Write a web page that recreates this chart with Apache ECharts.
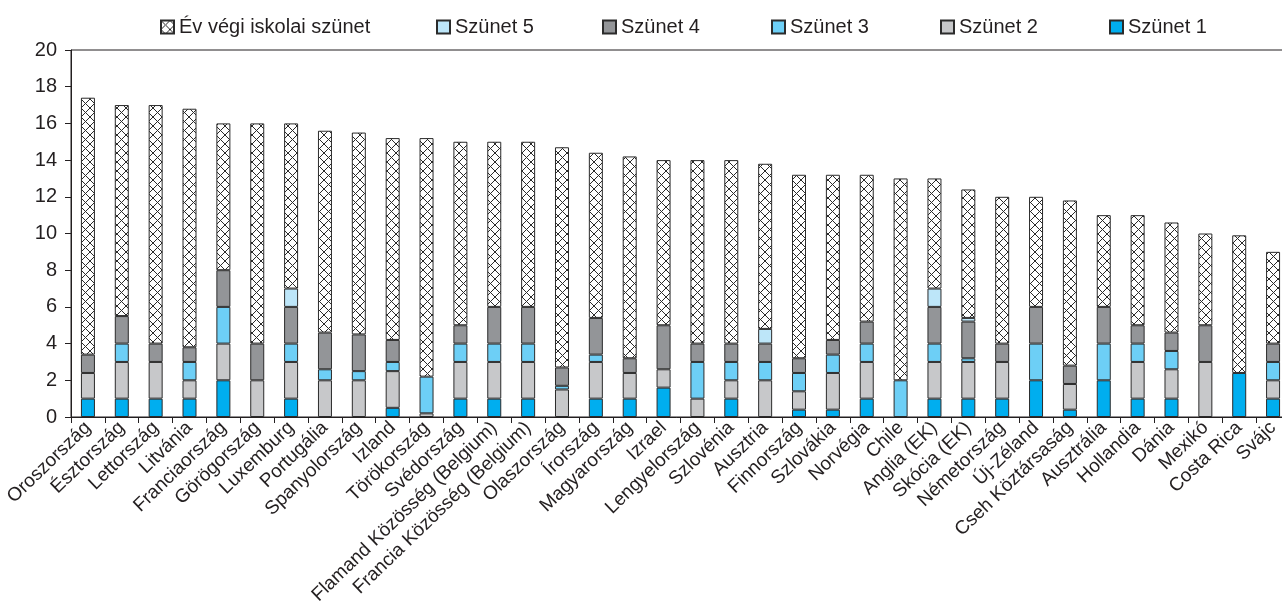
<!DOCTYPE html>
<html>
<head>
<meta charset="utf-8">
<script src="https://cdn.jsdelivr.net/npm/echarts@6/dist/echarts.min.js"></script>
<style>
html,body{margin:0;padding:0;background:#fff;}
#chart{width:1282px;height:605px;}
</style>
</head>
<body>
<div id="chart"></div>
<script>
const categories = ['Oroszország','Észtország','Lettország','Litvánia','Franciaország','Görögország','Luxemburg','Portugália','Spanyolország','Izland','Törökország','Svédország','Flamand Közösség (Belgium)','Francia Közösség (Belgium)','Olaszország','Írország','Magyarország','Izrael','Lengyelország','Szlovénia','Ausztria','Finnország','Szlovákia','Norvégia','Chile','Anglia (EK)','Skócia (EK)','Németország','Új-Zéland','Cseh Köztársaság','Ausztrália','Hollandia','Dánia','Mexikó','Costa Rica','Svájc'];

const szunet1 = [1,1,1,1,2,0,1,0,0,0.5,0,1,1,1,0,1,1,1.6,0,1,0,0.4,0.4,1,0,1,1,1,2,0.4,2,1,1,0,2.4,1];
const szunet2 = [1.4,2,2,1,2,2,2,2,2,2,0.2,2,2,2,1.5,2,1.4,1,1,1,2,1,2,2,0,2,2,2,0,1.4,0,2,1.6,3,0,1];
const szunet3 = [0,1,0,1,2,0,1,0.6,0.5,0.5,2,1,1,1,0.2,0.4,0,0,2,1,1,1,1,1,2,1,0.2,0,2,0,2,1,1,0,0,1];
const szunet4 = [1,1.5,1,0.8,2,2,2,2,2,1.2,0,1,2,2,1,2,0.8,2.4,1,1,1,0.8,0.8,1.2,0,2,2,1,2,1,2,1,1,2,0,1];
const szunet5 = [0,0,0,0,0,0,1,0,0,0,0,0,0,0,0,0,0,0,0,0,0.8,0,0,0,0,1,0.2,0,0,0,0,0,0,0,0,0];
const evVegi  = [14,11.5,13,13,8,12,9,11,11,11,13,10,9,9,12,9,11,9,10,10,9,10,9,8,11,6,7,8,6,9,5,6,6,5,7.5,5];

const yTicks = [0,2,4,6,8,10,12,14,16,18,20];

function nz(arr){ return arr.map(v => v === 0 ? '-' : v); }

// hatch pattern
const T = 9;
const pc = document.createElement('canvas');
pc.width = T; pc.height = T;
const ctx = pc.getContext('2d');
ctx.fillStyle = '#ffffff';
ctx.fillRect(0,0,T,T);
ctx.strokeStyle = '#2a2a2a';
ctx.lineWidth = 1;
ctx.beginPath();
ctx.moveTo(0,0); ctx.lineTo(T,T);
ctx.moveTo(T,0); ctx.lineTo(0,T);
ctx.stroke();
const hatch = {image: pc, repeat: 'repeat'};

const border = {borderColor:'#2b2b2b', borderWidth:1};
function bar(name, data, color){
  return {
    name, type:'bar', stack:'total', barWidth:14, data: nz(data),
    itemStyle: Object.assign({color}, border),
    emphasis:{disabled:true}
  };
}

const textColor = '#231F20';
const FONT = 'Liberation Sans, Arial, sans-serif';
const legendDefs = [
  ['Év végi iskolai szünet',155],
  ['Szünet 5',431],
  ['Szünet 4',597],
  ['Szünet 3',766],
  ['Szünet 2',935],
  ['Szünet 1',1104]
];

const chart = echarts.init(document.getElementById('chart'), null, {renderer:'canvas'});
chart.setOption({
  animation:false,
  legend: legendDefs.map(d => ({
    data:[d[0]], left:d[1], top:12, itemWidth:13, itemHeight:13, itemGap:8,
    icon:'rect', selectedMode:false,
    textStyle:{fontSize:20, color:textColor, fontFamily:FONT}
  })),
  grid:{left:71, top:50, width:1219, height:367, show:true, borderColor:textColor, borderWidth:1,
        backgroundColor:'transparent', containLabel:false, outerBoundsMode:'none'},
  xAxis:{
    type:'category', data:categories,
    axisLine:{lineStyle:{color:textColor, width:1}},
    axisTick:{show:true, alignWithLabel:false, length:6, lineStyle:{color:textColor}},
    axisLabel:{interval:0, rotate:44, margin:8, fontSize:19, color:textColor, fontFamily:FONT, hideOverlap:false}
  },
  yAxis:{
    type:'value', min:0, max:20, interval:2,
    axisLine:{show:true, lineStyle:{color:textColor, width:1}},
    axisTick:{show:true, length:6, lineStyle:{color:textColor}},
    splitLine:{show:false},
    axisLabel:{margin:14, fontSize:20, color:textColor, fontFamily:FONT,
      formatter: v => yTicks.includes(v) ? String(v) : ''}
  },
  series:[
    bar('Szünet 1', szunet1, '#00AEEF'),
    bar('Szünet 2', szunet2, '#C7C8CA'),
    bar('Szünet 3', szunet3, '#6DCFF6'),
    bar('Szünet 4', szunet4, '#939598'),
    bar('Szünet 5', szunet5, '#BDE6F9'),
    bar('Év végi iskolai szünet', evVegi, hatch)
  ]
});
</script>
</body>
</html>
